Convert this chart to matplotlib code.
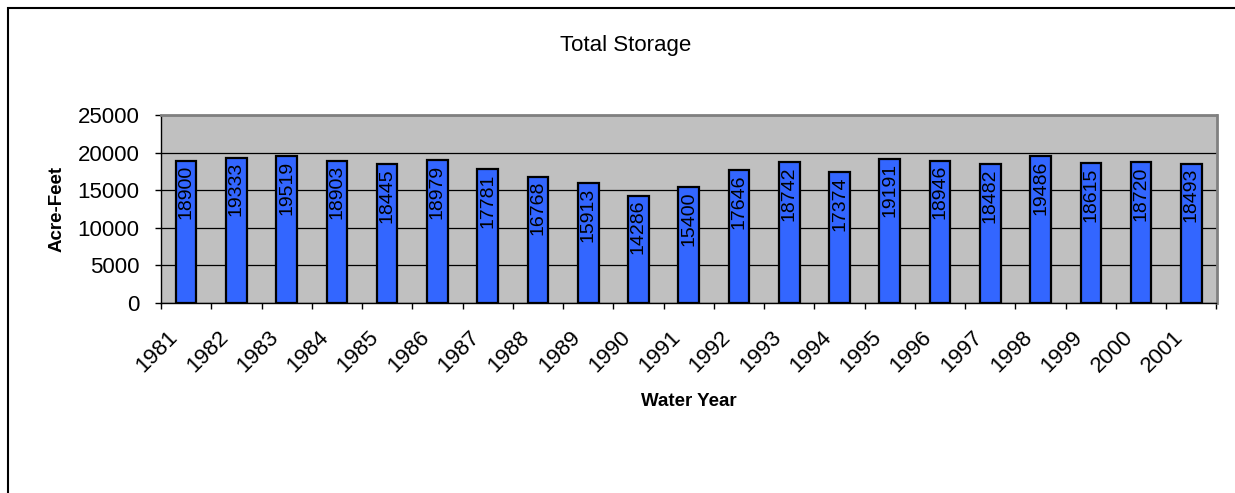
import numpy as np
import matplotlib.pyplot as plt
import matplotlib.transforms as mtransforms
from matplotlib.patches import Rectangle

### 0. Data
years = ['1981', '1982', '1983', '1984', '1985', '1986', '1987', '1988', '1989', '1990',
         '1991', '1992', '1993', '1994', '1995', '1996', '1997', '1998', '1999', '2000', '2001']
storage = [18900, 19333, 19519, 18903, 18445, 18979, 17781, 16768, 15913, 14286,
           15400, 17646, 18742, 17374, 19191, 18946, 18482, 19486, 18615, 18720, 18493]

### 1. Figure
plt.rcParams['font.family'] = ['Liberation Sans', 'DejaVu Sans']
W, H = 1235, 493
fig = plt.figure(figsize=(W / 100, H / 100), dpi=100)
ax = fig.add_axes([161 / W, 1 - 303 / H, (1216.5 - 161) / W, (303 - 115) / H])

# outer chart frame (runs off right and bottom edges)
fig.patches.append(Rectangle((8 / W, -0.2), 1.2, 1.2 - 7.5 / H, transform=fig.transFigure,
                             fill=False, edgecolor='black', linewidth=1.5, zorder=0))

### 2. Bars
x = np.arange(len(years))
ax.set_facecolor('#C0C0C0')
ax.bar(x, storage, width=0.41, color='#3366FF', edgecolor='black', linewidth=1.6, zorder=3)
for xi, v in zip(x, storage):
    ax.annotate(str(v), (xi, v), xytext=(0, -3), textcoords='offset points',
                rotation=90, ha='center', va='top', fontsize=14, zorder=4)

### 3. Axes
ax.set_xlim(-0.5, len(years) - 0.5)
ax.set_ylim(0, 25000)
ax.set_yticks(np.arange(0, 25001, 5000))
ax.yaxis.grid(True, color='black', linewidth=0.9, zorder=1)
ax.set_axisbelow(True)
ax.tick_params(axis='y', labelsize=16, length=4, width=1, direction='out', pad=11.5)

ax.set_xticks(x)
ax.set_xticklabels(years, rotation=45, ha='right', rotation_mode='default', fontsize=16)
ax.tick_params(axis='x', which='major', length=0, pad=17)
ax.set_xticks(np.arange(-0.5, len(years), 1.0), minor=True)
ax.tick_params(axis='x', which='minor', length=4, width=1, direction='out')
for lab in ax.get_xticklabels():
    lab.set_transform(lab.get_transform() + mtransforms.ScaledTranslation(-4 / 100, 0, fig.dpi_scale_trans))

for s in ['top', 'right']:
    ax.spines[s].set_color('#808080')
    ax.spines[s].set_linewidth(2)
ax.spines['left'].set_linewidth(1)
ax.spines['bottom'].set_linewidth(1)

ax.set_ylabel('Acre-Feet', fontsize=13.5, fontweight='bold', va='center')
ax.yaxis.set_label_coords((57 - 161) / (1216.5 - 161), 0.5)
ax.set_xlabel('Water Year', fontsize=13.5, fontweight='bold', va='center')
ax.xaxis.set_label_coords(0.5, (303 - 402) / (303 - 115))

fig.text(626 / W, 1 - 46 / H, 'Total Storage', ha='center', va='center', fontsize=16)

plt.savefig('out.png', dpi=100)
